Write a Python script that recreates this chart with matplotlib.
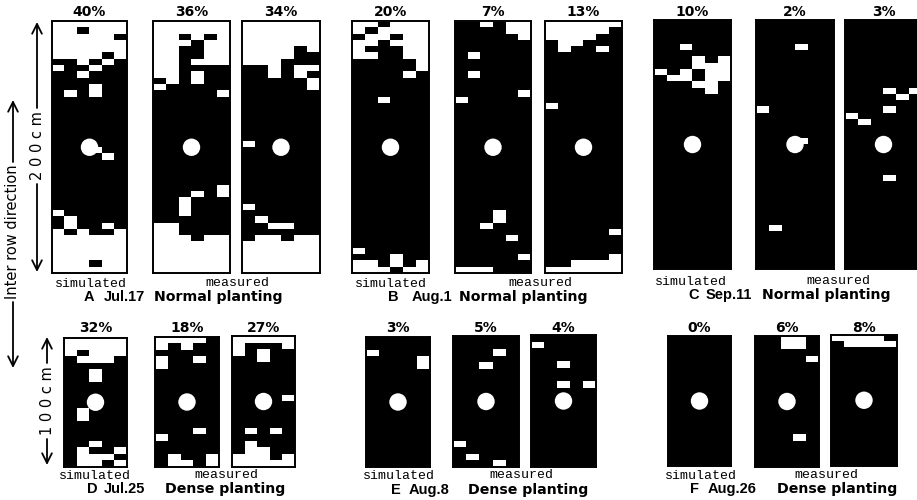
import numpy as np
import matplotlib
matplotlib.use("Agg")
import matplotlib.pyplot as plt
from matplotlib.patches import Ellipse

#%% Data: white gap cells of each canopy map, (col, row, ncols, nrows[, value])
# value 0 paints the cells black again. Normal planting = 6 x 40 grid, dense = 5 x 20
a_sim = [(0,0,6,6), (2,1,1,1,0), (5,2,1,1,0), (4,5,1,1,0), (2,6,1,1), (4,6,1,1), (0,7,1,1),
         (3,7,1,1), (2,8,1,1), (3,10,1,2), (1,11,1,1), (3,20,1,1), (4,21,1,1), (0,30,1,1),
         (1,31,1,2), (4,32,1,1), (0,33,6,7), (1,33,1,1,0), (3,33,2,1,0), (3,38,1,1,0)]
a_m1 = [(0,0,6,7), (2,2,1,1,0), (4,2,1,1,0), (3,3,1,3,0), (2,4,1,3,0), (0,7,2,2), (1,9,1,1),
        (0,10,1,1), (3,8,1,2), (5,11,1,1), (5,26,1,2), (3,27,1,1), (2,28,1,3),
        (0,32,2,8), (2,34,1,6), (3,35,1,5), (4,34,2,6)]
a_m2 = [(0,0,6,4), (0,4,2,3), (2,4,1,5), (3,4,1,2), (5,4,1,1), (4,7,2,1), (4,8,1,1), (5,9,1,2),
        (0,19,1,1), (0,29,1,1), (1,31,1,1), (2,32,2,1), (0,35,6,5), (1,34,2,1), (4,34,2,1)]
b_sim = [(0,0,6,6), (2,0,1,1,0), (1,1,1,1,0), (0,2,1,1,0), (3,2,1,1,0), (2,3,1,1,0),
         (1,4,1,1,0), (2,4,2,2,0), (5,6,1,2), (4,8,1,1), (2,12,1,1), (0,36,1,1), (0,38,2,2),
         (2,39,1,1), (3,37,1,2), (4,39,1,1), (5,38,1,2)]
b_m1 = [(2,0,1,1), (4,0,2,2), (5,2,1,1), (1,5,1,1), (1,8,1,1), (5,11,1,1), (0,12,1,1),
        (3,30,1,2), (2,32,1,1), (4,34,1,1), (5,37,1,1), (0,39,3,1)]
b_m2 = [(0,0,6,1), (0,1,5,1), (0,2,4,1), (1,3,2,1), (1,4,1,1), (4,4,1,1), (0,13,1,1),
        (5,33,1,1), (5,37,1,3), (2,38,3,2), (0,39,2,1)]
c_sim = [(2,4,1,1), (3,6,1,2), (5,6,1,4), (4,7,1,5), (0,8,1,1), (2,8,1,2), (1,9,1,1), (3,10,1,1)]
c_m1 = [(3,4,1,1), (0,14,1,1), (3,19,1,1), (1,33,1,1)]
c_m2 = [(3,11,1,1), (5,11,1,1), (4,12,1,1), (3,14,1,1), (0,15,1,1), (1,16,1,1), (3,25,1,1)]

d_sim = [(0,0,5,3), (1,2,1,1,0), (1,3,3,1), (2,5,1,2), (1,11,1,2), (2,16,1,1), (1,17,1,3),
         (4,17,1,1), (2,18,2,1), (2,19,1,1), (4,19,1,1)]
d_m1 = [(0,0,4,1), (0,1,1,1), (2,1,1,1), (0,3,1,2), (3,3,1,1), (3,14,1,1), (0,15,1,1),
        (1,18,1,2), (2,19,1,1), (4,18,1,2)]
d_m2 = [(0,0,5,1), (0,1,1,2), (4,1,1,1), (2,2,1,2), (4,9,1,1), (1,14,1,1), (3,14,1,1),
        (1,16,1,4), (2,17,1,3), (0,18,1,2), (4,18,1,2), (3,19,1,1)]
e_sim = [(0,2,1,1), (4,3,1,2)]
e_m1 = [(3,2,1,1), (2,4,1,1), (0,16,1,1), (1,18,1,1), (3,19,1,1)]
e_m2 = [(0,1,1,1), (2,4,1,1), (2,7,1,1), (4,7,1,1)]
f_sim = []
f_m1 = [(2,0,2,2), (4,3,1,1), (3,15,1,1)]
f_m2 = [(0,0,4,1), (1,1,4,1)]

pct_top = ["40%", "36%", "34%", "20%", "7%", "13%", "10%", "2%", "3%"]
pct_bot = ["32%", "18%", "27%", "3%", "5%", "4%", "0%", "6%", "8%"]
letters = ["A", "B", "C", "D", "E", "F"]
dates = ["Jul.17", "Aug.1", "Sep.11", "Jul.25", "Aug.8", "Aug.26"]
planting = ["Normal planting"] * 3 + ["Dense planting"] * 3

top_maps = [a_sim, a_m1, a_m2, b_sim, b_m1, b_m2, c_sim, c_m1, c_m2]
bot_maps = [d_sim, d_m1, d_m2, e_sim, e_m1, e_m2, f_sim, f_m1, f_m2]

#%% Layout (pixels of the 917x500 picture): left, right, top, bottom
W, H = 917, 500
top_boxes = [(52,127,21.5,273), (153,230,21.5,273), (242,320,21.5,273),
             (352,429,21.5,273), (455,531,21.5,273), (545,622,21.5,273),
             (654,731,20,269), (756,834,20,269), (845,922,20,269)]
bot_boxes = [(64,127,337.5,467), (155,219,337,467), (232,295,336,467),
             (366,430,337,467), (453,519,336,467), (531,596,335,467),
             (668,731,336,466), (755,819,336,467), (831,897,334.5,466)]
sim_x = [55, 355, 655, 59, 363, 665]
meas_x = [237, 540, 838, 226, 521, 826]
cap_y = [284, 284, 282, 476, 476, 476]
lab_y = [297, 297, 295, 489, 490, 489]
let_x = [84, 388, 688, 87, 391, 690]
date_x = [104, 412, 706, 104, 409, 708]
plant_x = [154, 459, 762, 165, 468, 777]
R = 8.7  # plant circle radius, px

fig = plt.figure(figsize=(W / 100, H / 100), dpi=100)
ax0 = fig.add_axes([0, 0, 1, 1])
ax0.set_xlim(0, W)
ax0.set_ylim(H, 0)
ax0.set_axis_off()


def draw_panel(box, cells, ncols, nrows):
    x0, x1, y0, y1 = box
    ax = fig.add_axes([x0 / W, 1 - y1 / H, (x1 - x0) / W, (y1 - y0) / H])
    mask = np.zeros((nrows, ncols))
    for cell in cells:
        c, r, w, h = cell[:4]
        mask[r:r + h, c:c + w] = cell[4] if len(cell) > 4 else 1
    ax.imshow(mask, cmap="gray", vmin=0, vmax=1, extent=(0, ncols, nrows, 0),
              aspect="auto", interpolation="nearest")
    cw = (x1 - x0) / ncols
    rh = (y1 - y0) / nrows
    ax.add_patch(Ellipse((ncols / 2, nrows / 2), 2 * R / cw, 2 * R / rh, color="white", lw=0))
    ax.set_xlim(0, ncols)
    ax.set_ylim(nrows, 0)
    ax.set_xticks([])
    ax.set_yticks([])
    for s in ax.spines.values():
        s.set_linewidth(1.4)


pct_font = dict(family="DejaVu Sans", fontweight="bold", fontsize=10, ha="center", va="center")
for box, cells, p in zip(top_boxes, top_maps, pct_top):
    draw_panel(box, cells, 6, 40)
    ax0.text((box[0] + box[1]) / 2, 12.5, p, **pct_font)
for box, cells, p in zip(bot_boxes, bot_maps, pct_bot):
    draw_panel(box, cells, 5, 20)
    ax0.text((box[0] + box[1]) / 2, 328, p, **pct_font)

mono = dict(family="Liberation Mono", fontsize=9.5, va="center")
lab = dict(family="DejaVu Sans", fontweight="bold", fontsize=10.2, va="center", ha="left")
lab2 = dict(family="Liberation Sans", fontweight="bold", fontsize=10.5, va="center", ha="left")
for i in range(6):
    ax0.text(sim_x[i], cap_y[i], "simulated", ha="left", **mono)
    ax0.text(meas_x[i], cap_y[i] - 1, "measured", ha="center", **mono)
    ax0.text(let_x[i], lab_y[i], letters[i], **lab2)
    ax0.text(date_x[i], lab_y[i], dates[i], **lab2)
    ax0.text(plant_x[i], lab_y[i], planting[i], **lab)

#%% Left side scale arrows
arr = dict(arrowstyle="->,head_length=0.7,head_width=0.35", lw=1.3, color="black",
           shrinkA=0, shrinkB=0)


def scale_bar(x, y_top, y_bot, y_mid, half, label, size, weight):
    ax0.annotate("", xy=(x, y_top), xytext=(x, y_mid - half), arrowprops=arr)
    ax0.annotate("", xy=(x, y_bot), xytext=(x, y_mid + half), arrowprops=arr)
    ax0.text(x, y_mid, label, rotation=90, ha="center", va="center",
             family="DejaVu Sans", fontsize=size, fontweight=weight)


scale_bar(37, 22, 272, 146, 38, "2 0 0 c m", 10.5, "normal")
scale_bar(47, 337, 465, 401, 38, "1 0 0 c m", 10.5, "normal")
scale_bar(13, 100, 368, 232, 70, "Inter row direction", 10.5, "normal")

fig.savefig("out.png", dpi=100)
